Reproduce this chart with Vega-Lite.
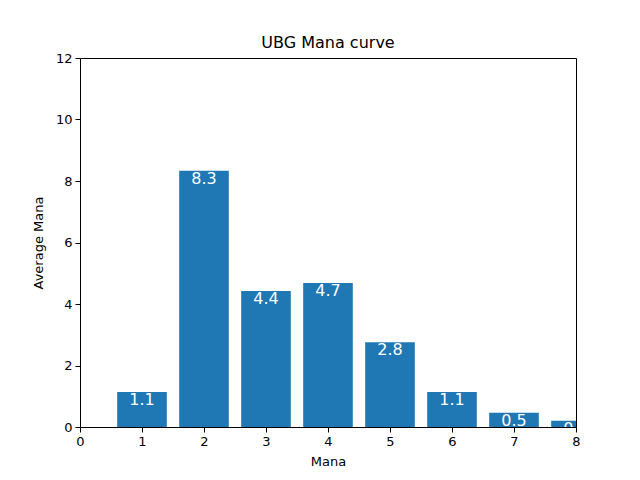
{
  "$schema": "https://vega.github.io/schema/vega-lite/v6.json",
  "title": {"text": "UBG Mana curve", "font": "DejaVu Sans", "fontSize": 16, "fontWeight": "normal", "color": "black", "offset": 1},
  "width": 496,
  "height": 369,
  "autosize": "none",
  "padding": {"left": 80, "top": 58, "right": 64, "bottom": 53},
  "data": {
    "values": [
      {"mana": 1, "avg": 1.14, "label": "1.1"},
      {"mana": 2, "avg": 8.33, "label": "8.3"},
      {"mana": 3, "avg": 4.42, "label": "4.4"},
      {"mana": 4, "avg": 4.68, "label": "4.7"},
      {"mana": 5, "avg": 2.76, "label": "2.8"},
      {"mana": 6, "avg": 1.14, "label": "1.1"},
      {"mana": 7, "avg": 0.46, "label": "0.5"},
      {"mana": 8, "avg": 0.2, "label": "0.2"}
    ]
  },
  "encoding": {
    "x": {
      "field": "mana", "type": "quantitative",
      "scale": {"domain": [0, 8], "nice": false, "zero": false, "padding": 0},
      "axis": {"values": [0, 1, 2, 3, 4, 5, 6, 7, 8], "grid": false, "title": "Mana", "format": "d", "labelFlush": false, "labelOverlap": false}
    },
    "y": {
      "field": "avg", "type": "quantitative",
      "scale": {"domain": [0, 12], "nice": false},
      "axis": {"values": [0, 2, 4, 6, 8, 10, 12], "grid": false, "title": "Average Mana", "labelFlush": false, "labelOverlap": false}
    }
  },
  "layer": [
    {"mark": {"type": "bar", "width": 49.6, "color": "#1f77b4", "clip": true}},
    {
      "mark": {"type": "text", "color": "white", "baseline": "top", "dy": 0, "font": "DejaVu Sans", "fontSize": 16, "clip": true},
      "encoding": {"text": {"field": "label"}}
    }
  ],
  "config": {
    "view": {"stroke": "black", "strokeWidth": 1},
    "axis": {
      "domain": false,
      "tickColor": "black",
      "tickSize": 5,
      "labelFont": "DejaVu Sans",
      "labelFontSize": 13,
      "labelColor": "black",
      "labelPadding": 3,
      "titleFont": "DejaVu Sans",
      "titleFontSize": 13,
      "titleFontWeight": "normal",
      "titleColor": "black"
    },
    "axisX": {"titlePadding": 7},
    "axisY": {"titlePadding": 10}
  }
}
